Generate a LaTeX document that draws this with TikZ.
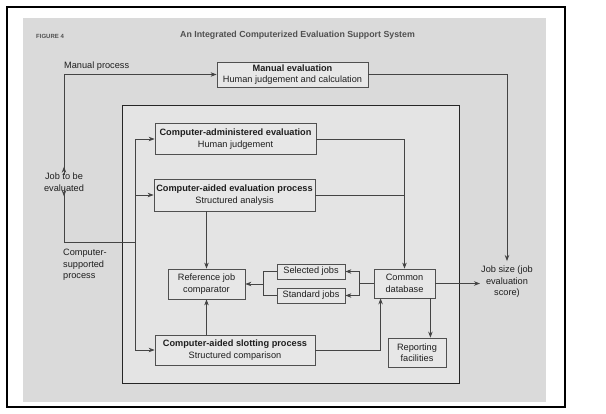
\documentclass[tikz,border=0pt]{standalone}
\usepackage{fontspec}
\setmainfont{Liberation Sans}
\usetikzlibrary{arrows.meta,calc}
\definecolor{panel}{HTML}{DADADA}
\definecolor{innerfill}{HTML}{E4E4E4}
\definecolor{boxfill}{HTML}{E7E7E7}
\definecolor{linec}{HTML}{444444}
\definecolor{boxc}{HTML}{505050}
\definecolor{txtc}{HTML}{1E1E1E}
\definecolor{titlec}{HTML}{505050}
\newcommand\myfs{\fontsize{9.2}{11.5}\selectfont}
\begin{document}
\begin{tikzpicture}[x=1pt,y=-1pt,
  conn/.style={draw=linec, line width=0.75pt},
  arr/.style={conn, -{Stealth[length=6pt,width=4.5pt]}},
  box/.style={draw=boxc, line width=0.8pt, fill=boxfill, inner sep=0pt, align=center, font=\myfs, text=txtc},
  lbl/.style={inner sep=0pt, font=\myfs, text=txtc},
]
\useasboundingbox (0,0) rectangle (606,413);
\fill[white] (0,0) rectangle (606,413);
% frame and panel
\draw[black, line width=1.4pt] (7,7) rectangle (565,407);
\draw[black, line width=1pt] (7.5,407.8) -- (565.8,407.8) -- (565.8,7.5);
\fill[panel] (23,18) rectangle (546,402);
\draw[draw=black!85, line width=1pt, fill=innerfill] (122,105) rectangle (459,383);

% titles
\node[inner sep=0pt, anchor=west, font=\fontsize{6}{7}\selectfont\bfseries, text=titlec] (fig) at (36,36) {FIGURE 4};
\node[inner sep=0pt, font=\fontsize{8.8}{10}\selectfont\bfseries, text=titlec] (title) at (297.5,35) {An Integrated Computerized Evaluation Support System};

% boxes
\node[box, minimum width=151pt, minimum height=25pt] (manual) at (292.5,74.5) {\textbf{Manual evaluation}\\Human judgement and calculation};
\node[box, minimum width=161pt, minimum height=31pt] (cadm) at (235.5,139) {\textbf{Computer-administered evaluation}\\Human judgement};
\node[box, minimum width=161pt, minimum height=32pt] (caep) at (234.5,195) {\textbf{Computer-aided evaluation process}\\Structured analysis};
\node[box, minimum width=77pt, minimum height=30pt] (refcmp) at (206.5,284) {Reference job\\comparator};
\node[box, minimum width=68pt, minimum height=15pt] (sel) at (311,271.5) {Selected jobs};
\node[box, minimum width=68pt, minimum height=15pt] (std) at (311,295.5) {Standard jobs};
\node[box, minimum width=61pt, minimum height=29pt] (db) at (404.5,283.5) {Common\\database};
\node[box, minimum width=58pt, minimum height=29pt] (rep) at (417,352.5) {Reporting\\facilities};
\node[box, minimum width=160pt, minimum height=30pt] (slot) at (235,350) {\textbf{Computer-aided slotting process}\\Structured comparison};

% free labels
\node[lbl, anchor=west] (mproc) at (64,66) {Manual process};
\node[lbl, align=center] (job) at (64,182) {Job to be\\evaluated};
\node[lbl, align=left, anchor=west] (csp) at (63,265) {Computer-\\supported\\process};
\node[lbl, align=center] (size) at (507,282) {Job size (job\\evaluation\\score)};

% coordinates
\coordinate (bus) at (135,242);
\coordinate (s1) at (359,283.5);
\coordinate (s2) at (263,284);
\coordinate (dbin) at ($(db.south west)+(7,0)$);
\coordinate (dbout) at ($(db.south east)+(-5,0)$);

% connectors
\draw[arr] ([yshift=-2pt]job.north) |- (manual.west);
\draw[arr] ([yshift=-1pt]job.north) -- ++(0,-7);
\draw[conn] ([yshift=3pt]job.south) |- (bus);
\draw[arr] ([yshift=2pt]job.south) -- ++(0,7);
\draw[arr] (bus) |- (cadm.west);
\draw[arr] (bus) |- (caep.west);
\draw[arr] (bus) |- (slot.west);

\draw[arr, shorten >=5pt] (manual.east) -| (size.north);
\draw[arr] (cadm.east) -| (db.north);
\draw[conn] (caep.east) -- (caep.east -| db.north);
\draw[arr] (caep.south -| refcmp.north) -- (refcmp.north);
\draw[arr] (slot.north -| refcmp.south) -- (refcmp.south);

\draw[conn] (db.west) -- (s1);
\draw[arr] (s1) |- (sel.east);
\draw[arr] (s1) |- (std.east);
\draw[conn] (sel.west) -| (s2);
\draw[conn] (std.west) -| (s2);
\draw[arr] (s2) -- (refcmp.east);

\draw[arr, shorten >=1pt] (db.east) -- (db.east -| size.west);
\draw[arr] (dbout) -- (dbout |- rep.north);
\draw[arr] (slot.east) -| (dbin);
\end{tikzpicture}
\end{document}
